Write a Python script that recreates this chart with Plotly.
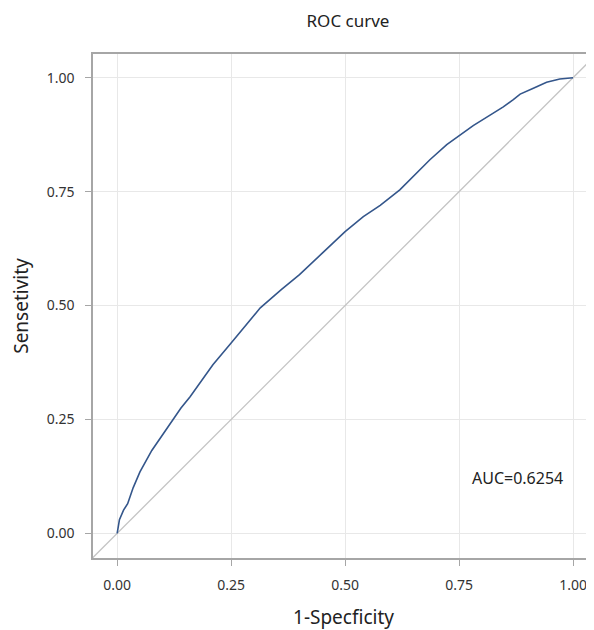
import plotly.graph_objects as go

# ROC curve points (false positive rate, true positive rate)
fpr = [0, 0.005, 0.014, 0.023, 0.035, 0.05, 0.076, 0.095, 0.116, 0.14, 0.16, 0.186,
       0.21, 0.25, 0.28, 0.314, 0.36, 0.40, 0.45, 0.5, 0.54, 0.577, 0.62, 0.65,
       0.686, 0.723, 0.748, 0.781, 0.818, 0.847, 0.869, 0.884, 0.913, 0.942, 0.971, 1.0]
tpr = [0, 0.03, 0.051, 0.065, 0.1, 0.135, 0.182, 0.21, 0.241, 0.275, 0.30, 0.336,
       0.37, 0.418, 0.455, 0.495, 0.535, 0.568, 0.615, 0.662, 0.695, 0.72, 0.754, 0.785,
       0.82, 0.853, 0.872, 0.895, 0.918, 0.936, 0.952, 0.964, 0.977, 0.990, 0.997, 1.0]

diag = [-0.1, 1.1]
tick_vals = [0, 0.25, 0.5, 0.75, 1.0]
tick_text = ["0.00", "0.25", "0.50", "0.75", "1.00"]
auc_label = "AUC=0.6254"

font_family = "Noto Sans, Open Sans, sans-serif"

# The page body adds an 8px margin, so the figure is sized to fit the window.
W, H = 586, 622

fig = go.Figure()
fig.add_trace(go.Scatter(x=diag, y=diag, mode="lines",
                         line=dict(color="#c4c4c4", width=1.3),
                         hoverinfo="skip", showlegend=False))
fig.add_trace(go.Scatter(x=fpr, y=tpr, mode="lines",
                         line=dict(color="#34568b", width=1.6),
                         showlegend=False))

fig.add_annotation(x=0.879, y=0.121, xref="x", yref="y", text=auc_label,
                   showarrow=False, font=dict(size=16, color="#222", family=font_family))

fig.update_layout(
    width=W, height=H,
    margin=dict(l=85, r=0, t=46, b=72),
    plot_bgcolor="white", paper_bgcolor="white",
    title=dict(text="ROC curve", x=340 / W, xanchor="center", y=1 - 13 / H,
               yanchor="middle", yref="container",
               font=dict(size=17, color="#222", family=font_family)),
    font=dict(family=font_family, color="#333"),
)

fig.update_xaxes(
    range=[-0.053, 1.046], tickvals=tick_vals, ticktext=tick_text,
    showgrid=True, gridcolor="#e8e8e8", gridwidth=1, zeroline=False,
    showline=True, linecolor="#a6a6a6", linewidth=1.5, mirror=True,
    ticks="outside", ticklen=6, tickcolor="#a6a6a6",
    tickfont=dict(size=14, color="#333"), ticklabelstandoff=7,
    automargin=False,
    title=dict(text="1-Specficity", font=dict(size=19, color="#222"), standoff=24),
)
fig.update_yaxes(
    range=[-0.054, 1.052], tickvals=tick_vals, ticktext=tick_text,
    showgrid=True, gridcolor="#e8e8e8", gridwidth=1, zeroline=False,
    showline=True, linecolor="#a6a6a6", linewidth=1.5,
    ticks="outside", ticklen=6, tickcolor="#a6a6a6",
    tickfont=dict(size=14, color="#333"), ticklabelstandoff=8,
    automargin=False,
    title=dict(text="Sensetivity", font=dict(size=19, color="#222"), standoff=21),
)

fig.write_html("out.html")
